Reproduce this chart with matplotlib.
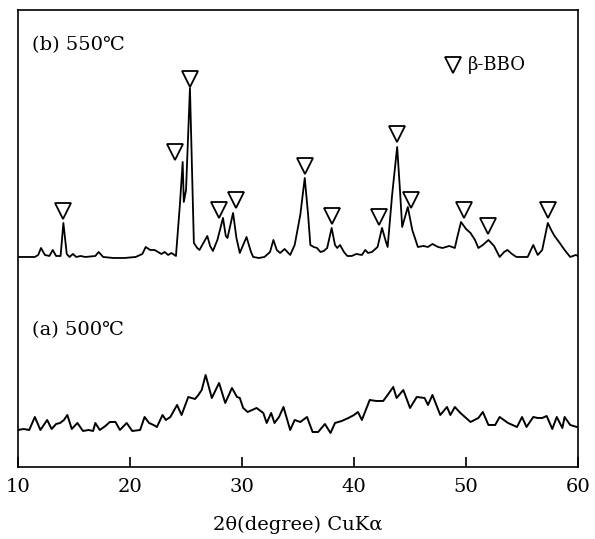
import numpy as np
import matplotlib
matplotlib.use('Agg')
import matplotlib.pyplot as plt

# -----------------------------------------------------------------------
# XRD patterns (2theta in degree, intensity in a.u.)
# -----------------------------------------------------------------------
theta_b = [10.0, 11.5, 11.8, 12.05, 12.4, 12.8, 13.1, 13.4, 13.8, 14.05, 14.35, 14.6,
           14.9, 15.2, 15.6, 16.0, 16.9, 17.2, 17.6, 18.5, 19.5, 20.5, 21.1, 21.4,
           21.8, 22.2, 22.5, 22.8, 23.1, 23.4, 23.7, 24.1, 24.45, 24.7, 24.8, 25.0,
           25.35, 25.7, 26.0, 26.2, 26.5, 26.9, 27.15, 27.4, 27.8, 28.3, 28.55, 28.7,
           29.2, 29.5, 29.8, 30.4, 30.8, 31.0, 31.5, 32.0, 32.5, 32.8, 33.1, 33.4,
           33.8, 34.3, 34.7, 35.2, 35.6, 35.9, 36.1, 36.4, 36.7, 37.0, 37.3, 37.6,
           38.0, 38.3, 38.5, 38.75, 39.1, 39.4, 39.8, 40.2, 40.7, 41.0, 41.25, 41.6,
           42.1, 42.5, 42.8, 43.0, 43.4, 43.85, 44.1, 44.3, 44.8, 45.2, 45.7, 46.2,
           46.6, 47.0, 47.5, 47.9, 48.5, 49.0, 49.2, 49.55, 50.0, 50.4, 50.8, 51.1,
           51.5, 52.0, 52.5, 53.0, 53.4, 53.7, 54.1, 54.5, 55.0, 55.5, 56.0, 56.4,
           56.8, 57.3, 57.6, 57.9, 58.3, 58.8, 59.3, 59.8, 60.0]
inten_b = [0, 0, 2, 9, 2, 1, 7, 1, 1, 34, 3, 0,
           3, 0, 1, 0, 1, 5, 0, -1, -1, 0, 3, 10,
           7, 7, 5, 3, 5, 2, 4, 1, 52, 95, 55, 67,
           169, 14, 9, 7, 13, 21, 11, 6, 17, 39, 21, 19,
           44, 19, 4, 20, 5, 0, -1, 0, 5, 17, 7, 4,
           8, 2, 12, 42, 79, 42, 12, 10, 9, 5, 6, 9,
           29, 12, 9, 12, 5, 1, 1, 3, 2, 7, 4, 5,
           10, 29, 17, 10, 62, 110, 67, 30, 50, 27, 10, 11,
           10, 13, 10, 9, 11, 9, 19, 35, 28, 24, 17, 9,
           12, 17, 11, 0, 5, 7, 3, 0, 0, 0, 12, 2,
           7, 34, 27, 21, 15, 7, 0, 2, 1]

theta_a = [10.0, 10.5, 11.0, 11.5, 12.0, 12.6, 13.0, 13.4, 13.75, 14.1, 14.4, 14.8,
           15.3, 15.8, 16.3, 16.7, 16.9, 17.3, 17.8, 18.2, 18.7, 19.1, 19.7, 20.2,
           20.9, 21.3, 21.7, 22.1, 22.4, 22.9, 23.2, 23.6, 24.2, 24.6, 25.2, 25.8,
           26.1, 26.4, 26.75, 27.3, 27.95, 28.5, 29.1, 29.55, 29.8, 30.1, 30.5, 31.3,
           31.9, 32.2, 32.6, 32.9, 33.3, 33.7, 34.3, 34.7, 35.2, 35.8, 36.3, 36.8,
           37.4, 37.9, 38.3, 38.9, 39.5, 40.0, 40.35, 40.7, 41.4, 42.0, 42.6, 43.0,
           43.5, 43.8, 44.4, 45.0, 45.6, 46.3, 46.6, 47.0, 47.7, 48.3, 48.6, 49.0,
           49.5, 49.9, 50.4, 51.1, 51.5, 52.0, 52.6, 53.0, 53.75, 54.55, 55.0, 55.4,
           56.0, 56.4, 56.8, 57.2, 57.7, 58.1, 58.6, 58.8, 59.3, 59.9, 60.0]
inten_a = [0, 1, 0, 13, 0, 10, 1, 6, 7, 10, 15, 1,
           7, -1, 0, -1, 7, 0, 4, 8, 8, 0, 7, -1,
           0, 13, 7, 5, 3, 15, 10, 13, 25, 15, 33, 31,
           35, 40, 55, 32, 47, 27, 42, 33, 32, 22, 18, 22,
           17, 7, 17, 7, 13, 23, 0, 10, 8, 13, -2, -2,
           6, -3, 7, 9, 12, 15, 18, 10, 30, 29, 29, 35,
           43, 32, 40, 22, 33, 32, 25, 35, 15, 23, 15, 23,
           17, 13, 8, 12, 18, 5, 5, 13, 7, 3, 13, 3,
           13, 12, 12, 14, 1, 13, 2, 13, 5, 3, 3]

# beta-BBO reflections (position, marker height above the 550C baseline)
peak_pos = [14.05, 24.0, 25.35, 27.95, 29.45, 35.6, 38.0, 42.25, 43.85, 45.1, 49.8, 52.0, 57.3]
peak_mark = [46, 105, 178, 47, 57, 91, 41, 40, 123, 57, 47, 31, 47]

labels = ['(a) 500℃', '(b) 550℃']
legend_text = 'β-BBO'
xticks = [10, 20, 30, 40, 50, 60]

# -----------------------------------------------------------------------
def main():
    plt.rcParams['font.family'] = ['DejaVu Serif', 'DejaVu Sans', 'Noto Sans CJK JP']
    plt.rcParams['mathtext.fontset'] = 'dejavuserif'

    fig = plt.figure(figsize=(5.95, 5.39), dpi=100)
    ax = fig.add_axes([0.0303, 0.1336, 0.9412, 0.8479])

    off_a, off_b = 37, 210   # vertical stacking of the two patterns
    ax.plot(theta_a, np.array(inten_a) + off_a, color='black', lw=1.4)
    ax.plot(theta_b, np.array(inten_b) + off_b, color='black', lw=1.3)
    ax.plot(peak_pos, np.array(peak_mark) + off_b, linestyle='none', marker='v',
            ms=12, mfc='white', mec='black', mew=1.3)

    # legend drawn by hand like in the original figure
    ax.plot([0.777], [0.88], transform=ax.transAxes, marker='v', ms=12,
            mfc='white', mec='black', mew=1.3, linestyle='none')
    ax.text(0.803, 0.88, legend_text, transform=ax.transAxes, fontsize=13,
            va='center', ha='left')

    ax.text(0.025, 0.923, labels[1], transform=ax.transAxes, fontsize=14,
            va='center', ha='left')
    ax.text(0.025, 0.30, labels[0], transform=ax.transAxes, fontsize=14,
            va='center', ha='left')

    ax.set_xlim(10, 60)
    ax.set_ylim(0, 457)
    ax.set_xticks(xticks)
    ax.set_yticks([])
    ax.tick_params(axis='x', direction='in', length=7.5, width=1.2,
                   labelsize=14, pad=8)
    for sp in ax.spines.values():
        sp.set_linewidth(1.2)

    ax.set_xlabel('2θ(degree) CuKα', fontsize=14)
    ax.xaxis.set_label_coords(0.5, -0.107)

    fig.savefig('out.png', dpi=100)

if __name__ == '__main__':
    main()
